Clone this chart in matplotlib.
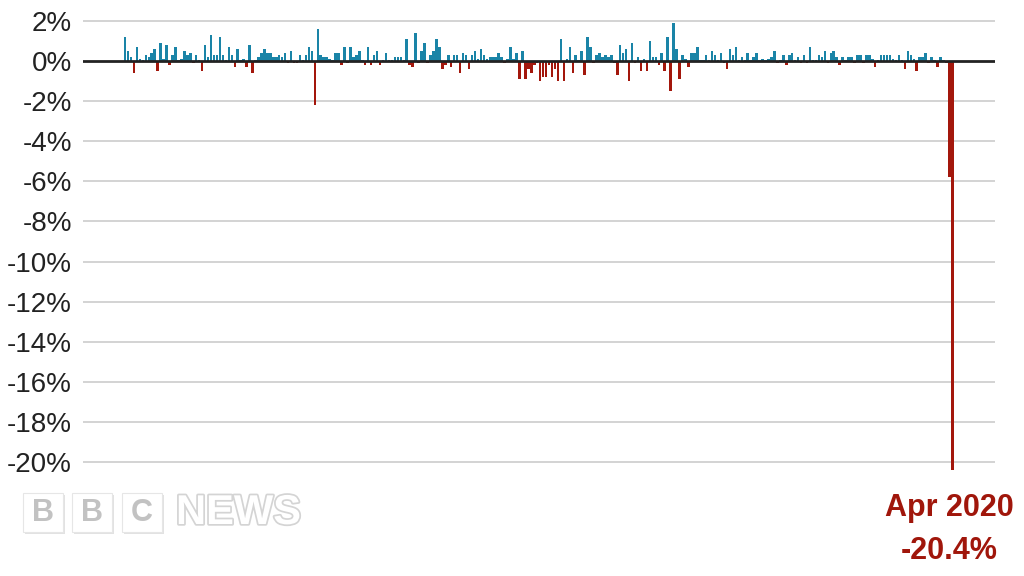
import matplotlib
matplotlib.use("Agg")
import matplotlib.pyplot as plt
import matplotlib.patheffects as pe
from matplotlib.patches import Rectangle

plt.rcParams['font.family'] = ['Liberation Sans', 'DejaVu Sans']

# Monthly GDP change (%), Jan 1997 - Apr 2020
gdp_change = [
    1.2, 0.5, 0.2, -0.6, 0.7, 0.1, 0.05, 0.3, 0.2, 0.4, 0.6, -0.5,
    0.9, 0.1, 0.8, -0.2, 0.3, 0.7, 0.05, 0.1, 0.5, 0.3, 0.4, -0.1,
    0.3, 0.05, -0.5, 0.8, 0.2, 1.3, 0.3, 0.3, 1.2, 0.3, 0.05, 0.7,
    0.3, -0.3, 0.6, 0.05, 0.1, -0.3, 0.8, -0.6, 0.05, 0.2, 0.4, 0.6,
    0.4, 0.4, 0.2, 0.2, 0.3, 0.2, 0.4, -0.1, 0.5, -0.1, -0.1, 0.3,
    0.05, 0.3, 0.7, 0.5, -2.2, 1.6, 0.3, 0.2, 0.2, 0.1, 0.05, 0.4,
    0.4, -0.2, 0.7, -0.1, 0.7, 0.2, 0.3, 0.5, 0.05, -0.2, 0.7, -0.2,
    0.3, 0.5, -0.2, 0.05, 0.4, 0.05, 0.05, 0.2, 0.2, 0.2, 0.05, 1.1,
    -0.2, -0.3, 1.4, -0.1, 0.5, 0.9, -0.1, 0.3, 0.5, 1.1, 0.7, -0.4,
    -0.2, 0.3, -0.3, 0.3, 0.3, -0.6, 0.4, 0.3, -0.4, 0.3, 0.5, 0.1,
    0.6, 0.3, 0.1, 0.2, 0.2, 0.2, 0.4, 0.2, -0.1, 0.1, 0.7, 0.1,
    0.4, -0.9, 0.5, -0.9, -0.4, -0.6, -0.2, -0.1, -1.0, -0.8, -0.8, -0.2,
    -0.8, -0.4, -1.0, 1.1, -1.0, 0.1, 0.7, -0.6, 0.3, 0.05, 0.5, -0.7,
    1.2, 0.7, -0.1, 0.3, 0.4, 0.2, 0.3, 0.2, 0.3, -0.1, -0.7, 0.8,
    0.4, 0.6, -1.0, 0.9, -0.1, 0.2, -0.5, 0.1, -0.5, 1.0, 0.2, 0.2,
    -0.2, 0.4, -0.5, 1.2, -1.5, 1.9, 0.6, -0.9, 0.3, 0.1, -0.3, 0.4,
    0.4, 0.7, 0.05, 0.05, 0.3, 0.05, 0.5, 0.3, 0.05, 0.4, -0.1, -0.4,
    0.6, 0.3, 0.7, 0.05, 0.2, 0.05, 0.4, 0.05, 0.2, 0.4, 0.05, 0.1,
    0.05, 0.1, 0.2, 0.5, -0.1, 0.05, 0.3, -0.2, 0.3, 0.4, 0.05, 0.2,
    -0.1, 0.3, -0.1, 0.7, 0.05, 0.05, 0.3, 0.2, 0.5, -0.1, 0.4, 0.5,
    0.2, -0.2, 0.2, 0.05, 0.2, 0.2, -0.1, 0.3, 0.3, -0.1, 0.3, 0.3,
    0.1, -0.3, 0.05, 0.3, 0.3, 0.3, 0.3, 0.1, 0.05, 0.3, 0.05, -0.4,
    0.5, 0.3, 0.1, -0.5, 0.2, 0.2, 0.4, -0.1, 0.2, 0.05, -0.3, 0.2,
    0.05, -0.1, -5.8, -20.4,
]
y_ticks = list(range(2, -21, -2))
y_labels = [f"{t}%" for t in y_ticks]
label_month = "Apr 2020"
label_value = "-20.4%"

blue = "#1a84a7"
red = "#a3170c"

fig = plt.figure(figsize=(10.24, 5.76), dpi=100)
ax = fig.add_axes([0.081, 0.163, 0.891, 0.818])

months = list(range(len(gdp_change)))
colors = [blue if v >= 0 else red for v in gdp_change]
ax.bar(months, gdp_change, width=0.85, color=colors, zorder=2)

ax.set_xlim(-14.2, 293.5)
ax.set_ylim(-21, 2.5)
ax.set_yticks(y_ticks)
ax.set_yticklabels(y_labels)
ax.set_xticks([])
ax.tick_params(axis='y', length=0, pad=8, labelsize=20, labelcolor='#222222')
for t in y_ticks:
    if t != 0:
        ax.axhline(t, color='#cccccc', lw=1.2, zorder=1)
ax.axhline(0, color='#222222', lw=2, zorder=3)
for s in ax.spines.values():
    s.set_visible(False)

fig.text(949 / 1024, 1 - 508 / 576, label_month, color='#a0160b',
         fontsize=22, fontweight='bold', ha='center', va='center')
fig.text(949 / 1024, 1 - 551 / 576, label_value, color='#a0160b',
         fontsize=22, fontweight='bold', ha='center', va='center')

# BBC NEWS logo, faint
W, H = 1024, 576
for x0, letter in [(23, 'B'), (72, 'B'), (122, 'C')]:
    shadow = Rectangle(((x0 + 1.5) / W, 1 - 534 / H), 40 / W, 39 / H,
                       transform=fig.transFigure, facecolor='#e2e2e2',
                       edgecolor='none')
    box = Rectangle((x0 / W, 1 - 532 / H), 40 / W, 39 / H,
                    transform=fig.transFigure, facecolor='white',
                    edgecolor='#e6e6e6', lw=0.8)
    fig.patches.extend([shadow, box])
    fig.text((x0 + 20) / W, 1 - 513 / H, letter, color='#c2c2c2',
             fontsize=22, fontweight='bold', ha='center', va='center')
fig.text(176 / W, 1 - 513 / H, "NEWS", color='white', fontsize=30,
         fontweight='bold', ha='left', va='center',
         path_effects=[pe.withStroke(linewidth=2.5, foreground='#d4d4d4')])

fig.savefig("out.png", dpi=100)
